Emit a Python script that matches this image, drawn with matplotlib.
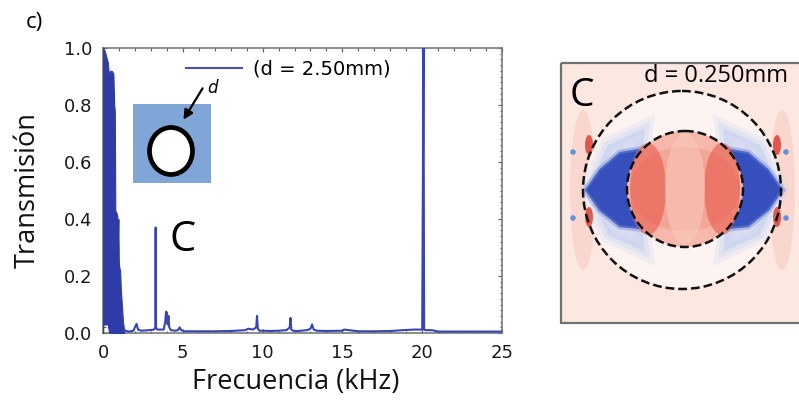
"""Transmission spectrum (d = 2.50 mm) with field-map panel C."""

import matplotlib
matplotlib.use('Agg')
import matplotlib.pyplot as plt
from matplotlib.patches import Rectangle, Ellipse, Circle, Polygon, FancyArrowPatch
from matplotlib.ticker import MultipleLocator

W, H = 799, 417

# ── data ──
# low-frequency band (dense oscillations, drawn as filled envelope)
band_f = [0.00, 0.02, 0.10, 0.20, 0.30, 0.38, 0.45, 0.55, 0.65, 0.70, 0.74, 0.77,
          0.85, 0.90, 0.93, 0.96, 0.99, 1.02, 1.07, 1.12, 1.18, 1.25, 1.32]
band_top = [0.98, 1.00, 0.99, 0.97, 0.95, 0.90, 0.92, 0.92, 0.91, 0.80, 0.78, 0.43,
            0.42, 0.41, 0.33, 0.40, 0.25, 0.23, 0.22, 0.15, 0.10, 0.04, 0.01]
band_low = [0.00, 0.03, 0.03, 0.03, 0.03, 0.00, 0.00, 0.00, 0.00, 0.00, 0.00, 0.00,
            0.00, 0.00, 0.00, 0.00, 0.00, 0.00, 0.00, 0.00, 0.00, 0.00, 0.00]

# rest of the spectrum
freq = [1.32, 1.60, 1.90, 2.00, 2.10, 2.20, 2.40, 2.90, 3.20, 3.28, 3.30, 3.32,
        3.40, 3.80, 3.90, 3.95, 4.00, 4.05, 4.10, 4.15, 4.25, 4.50, 4.70, 4.80,
        4.90, 5.10, 6.00, 7.00, 8.00, 8.90, 9.10, 9.40, 9.60, 9.65, 9.70, 9.80,
        10.00, 10.50, 11.00, 11.50, 11.70, 11.75, 11.80, 11.90, 12.20, 12.80,
        13.00, 13.10, 13.20, 13.40, 14.00, 15.00, 15.10, 16.00, 17.00, 18.00,
        18.80, 19.50, 20.00, 20.08, 20.12, 20.20, 20.60, 21.00, 22.00, 23.00,
        24.00, 25.00]
trans = [0.010, 0.005, 0.008, 0.020, 0.032, 0.012, 0.008, 0.010, 0.012, 0.020, 0.370, 0.020,
         0.012, 0.012, 0.040, 0.075, 0.072, 0.030, 0.060, 0.020, 0.010, 0.008, 0.010, 0.020,
         0.010, 0.006, 0.006, 0.006, 0.007, 0.010, 0.015, 0.012, 0.020, 0.060, 0.015, 0.008,
         0.008, 0.007, 0.008, 0.010, 0.020, 0.053, 0.012, 0.008, 0.007, 0.010,
         0.015, 0.030, 0.012, 0.008, 0.007, 0.008, 0.012, 0.006, 0.006, 0.007,
         0.010, 0.012, 0.012, 1.000, 0.012, 0.010, 0.010, 0.005, 0.005, 0.005,
         0.005, 0.005]

x_ticks = [0, 5, 10, 15, 20, 25]
y_ticks = [0.0, 0.2, 0.4, 0.6, 0.8, 1.0]

BLUE = '#2f3ca8'
LINE_BLUE = '#3844b2'
FRAME = '#7a7a7a'
LABEL_FONT = ['Open Sans', 'DejaVu Sans']


def px(x0, y0, x1, y1):
    """Figure fraction rect from pixel box (top-left origin)."""
    return [x0 / W, 1 - y1 / H, (x1 - x0) / W, (y1 - y0) / H]


def main():
    fig = plt.figure(figsize=(W / 100, H / 100), dpi=100)
    fig.patch.set_facecolor('white')

    # ── spectrum axes ──
    ax = fig.add_axes(px(103, 48, 502, 333))
    ax.fill_between(band_f, band_low, band_top, color=BLUE, lw=0.8, zorder=3)
    ax.plot(freq, trans, color=LINE_BLUE, lw=1.5, zorder=3)
    ax.set_xlim(0, 25)
    ax.set_ylim(0, 1.0)
    ax.set_xticks(x_ticks)
    ax.set_yticks(y_ticks)
    ax.set_yticklabels([f'{v:.1f}' for v in y_ticks])
    ax.xaxis.set_minor_locator(MultipleLocator(1))
    ax.yaxis.set_minor_locator(MultipleLocator(0.02))
    ax.tick_params(which='both', direction='in', top=True, right=True,
                   color='#606060', labelsize=13, labelcolor='#1a1a1a')
    ax.tick_params(which='major', length=3, width=0.9)
    ax.tick_params(which='minor', length=1.8, width=0.8)
    ax.tick_params(axis='x', pad=8)
    ax.tick_params(axis='y', pad=8)
    for sp in ax.spines.values():
        sp.set_color(FRAME)
        sp.set_linewidth(1.2)

    # legend
    ax.plot([], [], color='#4a52b8', lw=1.5, label='(d = 2.50mm)')
    ax.legend(loc='center left', bbox_to_anchor=((186 - 103) / 399, (333 - 69) / 285),
              frameon=False, borderpad=0, borderaxespad=0, handlelength=2.9,
              handletextpad=0.55, prop={'size': 14})

    ax.set_xlabel('Frecuencia (kHz)', fontsize=19.5, family=LABEL_FONT, color='#111111')
    ax.set_ylabel('Transmisión', fontsize=19.5, family=LABEL_FONT, color='#111111')
    ax.xaxis.set_label_coords((296 - 103) / 399, (333 - 382) / 285)
    ax.xaxis.label.set_va('center')
    ax.yaxis.set_label_coords((28 - 103) / 399, 0.5)
    ax.yaxis.label.set_va('center')

    # ── overlay in pixel coords for decorations ──
    deco = fig.add_axes([0, 0, 1, 1], zorder=5)
    deco.set_xlim(0, W)
    deco.set_ylim(H, 0)
    deco.axis('off')

    deco.text(34, 22, 'c)', fontsize=16, family=LABEL_FONT, ha='center', va='center')
    deco.text(183, 240, 'C', fontsize=30, family=LABEL_FONT, ha='center', va='center')

    # inset icon: square with ring and arrow
    deco.add_patch(Rectangle((133, 104), 78, 79, facecolor='#7fa6d6', edgecolor='none'))
    deco.add_patch(Ellipse((171, 151), 43, 47, facecolor='white', edgecolor='black', lw=3.4))
    deco.add_patch(FancyArrowPatch((204, 86), (182, 122), arrowstyle='-|>',
                                   mutation_scale=14, color='black', lw=1.6))
    deco.text(212, 88, 'd', fontsize=12, style='italic', ha='center', va='center')

    # ── field-map panel ──
    bx0, by0, bx1, by1 = 561, 63, 830, 323
    deco.add_patch(Rectangle((bx0, by0), bx1 - bx0, by1 - by0, facecolor='#fce8e1',
                             edgecolor='none', zorder=1))
    # pink side bands outside the outer ring
    for cx in (583, 782):
        deco.add_patch(Ellipse((cx, 190), 26, 160, facecolor='#f6c4b8', edgecolor='none',
                               alpha=0.45, zorder=1))
    # white ring zone between circles
    deco.add_patch(Circle((683, 190), 98, facecolor='#fdf4f1', edgecolor='none', zorder=1))
    # soft light-blue halos around crescents (stacked for a gradient)
    halo_left = [(588, 190), (608, 145), (645, 128), (640, 175), (640, 205), (645, 252), (608, 235)]
    halo_right = [(2 * 684 - x, y) for x, y in halo_left]
    for pts in (halo_left, halo_right):
        for grow, a in ((6, 0.25), (3, 0.3), (0, 0.35)):
            poly = Polygon(pts, closed=True, facecolor='#c7d2f0', edgecolor='#c7d2f0',
                           lw=grow * 2, alpha=a, zorder=2)
            deco.add_patch(poly)
    # blue crescents
    cres_left = [(586, 190), (600, 170), (620, 153), (638, 150), (630, 170),
                 (628, 190), (630, 210), (638, 228), (620, 226), (600, 210)]
    cres_right = [(2 * 684 - x, y) for x, y in cres_left]
    for pts in (cres_left, cres_right):
        deco.add_patch(Polygon(pts, closed=True, facecolor='#8c9de0', edgecolor='#8c9de0',
                               lw=5, alpha=0.6, zorder=3))
        deco.add_patch(Polygon(pts, closed=True, facecolor='#3550bd', edgecolor='#5068c8',
                               lw=1.5, zorder=3))
    # red inner disc, brighter towards the sides
    deco.add_patch(Circle((685, 189), 58, facecolor='#f6b8aa', edgecolor='none', zorder=3))
    deco.add_patch(Ellipse((685, 189), 110, 84, facecolor='#f09a8a', edgecolor='none',
                           alpha=0.6, zorder=3))
    deco.add_patch(Ellipse((648, 189), 36, 92, facecolor='#e8594c', edgecolor='none',
                           alpha=0.6, zorder=3))
    deco.add_patch(Ellipse((722, 189), 36, 92, facecolor='#e8594c', edgecolor='none',
                           alpha=0.6, zorder=3))
    deco.add_patch(Ellipse((685, 189), 40, 112, facecolor='#f8c8bc', edgecolor='none',
                           alpha=0.6, zorder=3))
    # red spots on outer ring and small blue dots outside
    for cx, cy in ((589, 145), (589, 217), (777, 145), (777, 217)):
        deco.add_patch(Ellipse((cx, cy), 8, 20, facecolor='#d9372e', edgecolor='none',
                               alpha=0.8, zorder=3))
    for cx, cy in ((573, 152), (573, 218), (786, 152), (786, 218)):
        deco.add_patch(Circle((cx, cy), 2.8, facecolor='#6b8fd8', edgecolor='none', zorder=3))
    # dashed circles
    deco.add_patch(Circle((682, 190), 99, facecolor='none', edgecolor='#111111', lw=1.8,
                          linestyle=(0, (3.5, 1.6)), zorder=4))
    deco.add_patch(Circle((685, 189), 58, facecolor='none', edgecolor='#111111', lw=1.8,
                          linestyle=(0, (3.5, 1.6)), zorder=4))
    # frame
    deco.add_patch(Rectangle((bx0, by0), bx1 - bx0, by1 - by0, facecolor='none',
                             edgecolor='#707070', lw=1.6, zorder=5))
    deco.text(582, 96, 'C', fontsize=28, family=LABEL_FONT, ha='center', va='center', zorder=6)
    deco.text(716, 76, 'd = 0.250mm', fontsize=17, family=LABEL_FONT, ha='center',
              va='center', zorder=6)

    fig.savefig('out.png', dpi=100, facecolor='white')


if __name__ == '__main__':
    main()
